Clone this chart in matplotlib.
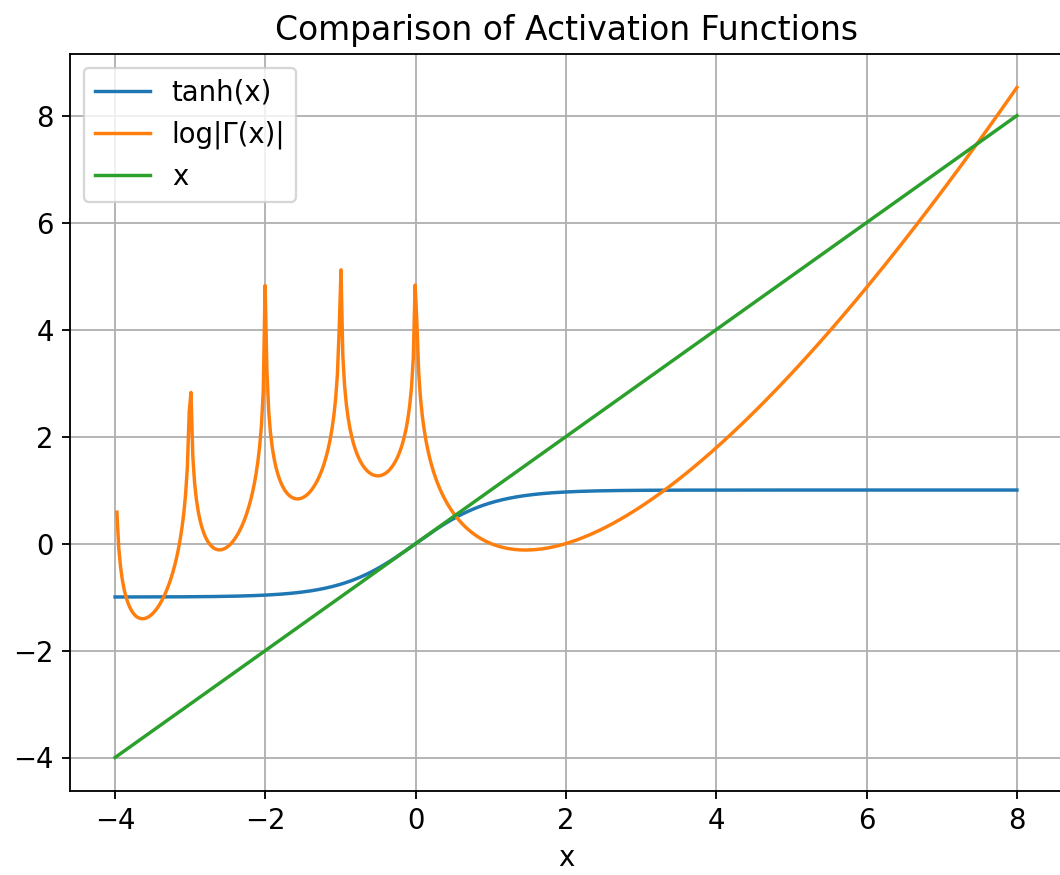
import math

import numpy as np
import matplotlib
matplotlib.use('Agg')
import matplotlib.pyplot as plt

# sampled domain (500 points from -4 to 8, matches the finite spike heights)
x_min = -4.0
x_max = 8.0
n_samples = 500

labels = ['tanh(x)', 'log|Γ(x)|', 'x']
colors = ['#1f77b4', '#ff7f0e', '#2ca02c']
x_ticks = [-4, -2, 0, 2, 4, 6, 8]
y_ticks = [-4, -2, 0, 2, 4, 6, 8]


def log_abs_gamma(v):
    try:
        return math.lgamma(v)
    except ValueError:
        # pole of the gamma function
        return np.nan


def main():
    plt.rcParams['font.size'] = 12

    dpi = 165
    fig = plt.figure(figsize=(1060 / dpi, 875 / dpi), dpi=dpi)
    ax = fig.add_axes([70 / 1060, 1 - 791 / 875, 992 / 1060, 737 / 875])

    xs = np.linspace(x_min, x_max, n_samples)
    series = [
        np.tanh(xs),
        np.array([log_abs_gamma(v) for v in xs]),
        xs,
    ]

    for ys, label, color in zip(series, labels, colors):
        ax.plot(xs, ys, label=label, color=color)

    ax.set_xticks(x_ticks)
    ax.set_yticks(y_ticks)
    ax.set_xlabel('x')
    ax.set_title('Comparison of Activation Functions')
    ax.legend(loc='upper left')
    ax.grid(True)

    fig.savefig('out.png', dpi=dpi)


if __name__ == '__main__':
    main()
